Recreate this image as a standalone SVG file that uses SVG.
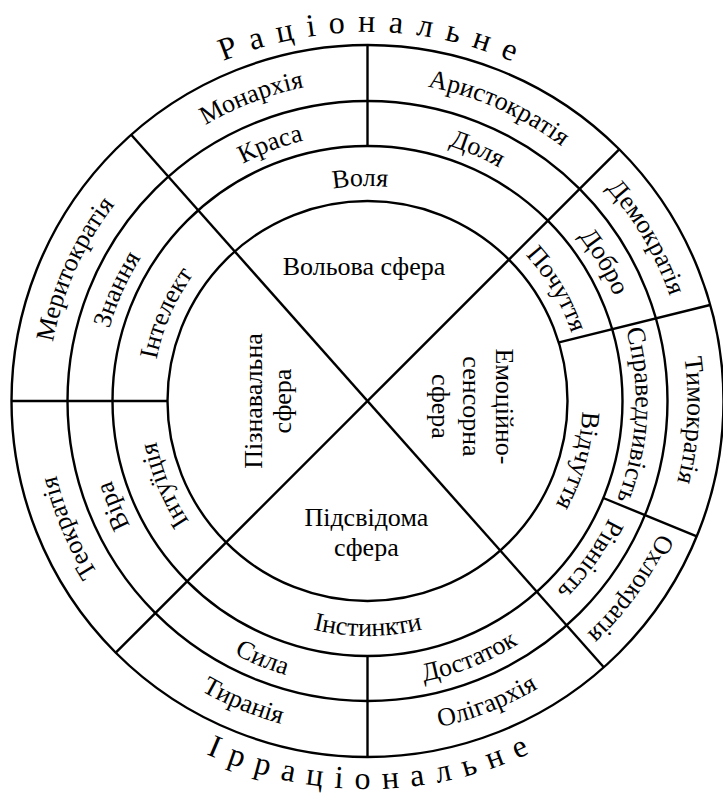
<svg xmlns="http://www.w3.org/2000/svg" xmlns:xlink="http://www.w3.org/1999/xlink" width="723" height="797" viewBox="0 0 723 797">
<style>
  .ring { fill: none; stroke: #000; stroke-width: 2.4; }
  .div { stroke: #000; stroke-width: 2.4; stroke-linecap: butt; fill: none; }
  text { font-family: "Liberation Serif", "DejaVu Serif", serif; font-size: 26px; fill: #000; }
  .lbl { text-anchor: middle; }
  .head { font-size: 32px; letter-spacing: 13px; text-anchor: middle; }
  .head2 { font-size: 32px; letter-spacing: 11.8px; text-anchor: middle; }
</style>
<defs>
  <path id="cw369" d="M367.5,770 A369,369 0 1 1 367.5,32 A369,369 0 1 1 367.5,770"/>
  <path id="cw320" d="M367.5,721 A320,320 0 1 1 367.5,81 A320,320 0 1 1 367.5,721"/>
  <path id="cw268" d="M367.5,669 A268,268 0 1 1 367.5,133 A268,268 0 1 1 367.5,669"/>
  <path id="cw215" d="M367.5,616 A215,215 0 1 1 367.5,186 A215,215 0 1 1 367.5,616"/>
  <path id="ccw388" d="M367.5,13 A388,388 0 1 0 367.5,789 A388,388 0 1 0 367.5,13"/>
  <path id="ccw334" d="M367.5,67 A334,334 0 1 0 367.5,735 A334,334 0 1 0 367.5,67"/>
  <path id="ccw286" d="M367.5,115 A286,286 0 1 0 367.5,687 A286,286 0 1 0 367.5,115"/>
  <path id="ccw235" d="M367.5,166 A235,235 0 1 0 367.5,636 A235,235 0 1 0 367.5,166"/>
</defs>
<rect x="0" y="0" width="723" height="797" fill="#fff"/>

<g id="rings">
  <circle class="ring" cx="367.5" cy="401" r="356"/>
  <circle class="ring" cx="367.5" cy="401" r="300"/>
  <circle class="ring" cx="367.5" cy="401" r="255"/>
  <circle class="ring" cx="367.5" cy="401" r="200"/>
</g>

<g id="connectors">
  <line class="div" x1="131.2" y1="134.8" x2="603.8" y2="667.2"/>
  <line class="div" x1="619.2" y1="149.3" x2="115.8" y2="652.7"/>
  <line class="div" x1="367.5" y1="45" x2="367.5" y2="146"/>
  <line class="div" x1="367.5" y1="656" x2="367.5" y2="757"/>
  <line class="div" x1="11.5" y1="401" x2="167.5" y2="401"/>
  <line class="div" x1="559" y1="342.4" x2="710" y2="305"/>
  <line class="div" x1="603.3" y1="498" x2="696.8" y2="536.4"/>
</g>

<g id="headers">
  <g id="rational"><text class="head"><textPath href="#cw369" xlink:href="#cw369" startOffset="1165.7">Раціональне</textPath></text></g>
  <g id="irrational"><text class="head2"><textPath href="#ccw388" xlink:href="#ccw388" startOffset="1224.8">Ірраціональне</textPath></text></g>
</g>

<g id="spheres">
  <g id="volova"><text class="lbl" x="364" y="275">Вольова сфера</text></g>
  <g id="piznavalna">
    <text class="lbl" transform="translate(261.7,401) rotate(-90)">Пізнавальна</text>
    <text class="lbl" transform="translate(290.7,401) rotate(-90)">сфера</text>
  </g>
  <g id="emotsiino">
    <text class="lbl" transform="translate(496,406.5) rotate(90)">Емоційно-</text>
    <text class="lbl" transform="translate(463.3,406.5) rotate(90)">сенсорна</text>
    <text class="lbl" transform="translate(431.7,406.5) rotate(90)">сфера</text>
  </g>
  <g id="pidsvidoma">
    <text class="lbl" x="366.3" y="526">Підсвідома</text>
    <text class="lbl" x="366.3" y="555.5">сфера</text>
  </g>
</g>

<g id="inner-ring">
  <g id="volia"><text class="lbl"><textPath href="#cw215" xlink:href="#cw215" startOffset="667.9">Воля</textPath></text></g>
  <g id="pochuttia"><text class="lbl"><textPath href="#cw215" xlink:href="#cw215" startOffset="898">Почуття</textPath></text></g>
  <g id="vidchuttia"><text class="lbl"><textPath href="#cw215" xlink:href="#cw215" startOffset="1072.1">Відчуття</textPath></text></g>
  <g id="instynkty"><text class="lbl"><textPath href="#ccw235" xlink:href="#ccw235" startOffset="738.3">Інстинкти</textPath></text></g>
  <g id="intuitsiia"><text class="lbl"><textPath href="#cw215" xlink:href="#cw215" startOffset="253.3">Інтуїція</textPath></text></g>
  <g id="intelekt"><text class="lbl"><textPath href="#cw215" xlink:href="#cw215" startOffset="425.9">Інтелект</textPath></text></g>
</g>

<g id="middle-ring">
  <g id="krasa"><text class="lbl"><textPath href="#cw268" xlink:href="#cw268" startOffset="744.7">Краса</textPath></text></g>
  <g id="dolia"><text class="lbl"><textPath href="#cw268" xlink:href="#cw268" startOffset="951.9">Доля</textPath></text></g>
  <g id="dobro"><text class="lbl"><textPath href="#cw268" xlink:href="#cw268" startOffset="1120.2">Добро</textPath></text></g>
  <g id="spravedlyvist"><text class="lbl"><textPath href="#cw268" xlink:href="#cw268" startOffset="1276.9">Справедливість</textPath></text></g>
  <g id="rivnist"><text class="lbl"><textPath href="#cw268" xlink:href="#cw268" startOffset="1428.5">Рівність</textPath></text></g>
  <g id="dostatok"><text class="lbl"><textPath href="#ccw286" xlink:href="#ccw286" startOffset="1005.8">Достаток</textPath></text></g>
  <g id="syla"><text class="lbl"><textPath href="#ccw286" xlink:href="#ccw286" startOffset="787.2">Сила</textPath></text></g>
  <g id="vira"><text class="lbl"><textPath href="#cw268" xlink:href="#cw268" startOffset="315.7">Віра</textPath></text></g>
  <g id="znannia"><text class="lbl"><textPath href="#cw268" xlink:href="#cw268" startOffset="533.2">Знання</textPath></text></g>
</g>

<g id="outer-ring">
  <g id="monarkhiia"><text class="lbl"><textPath href="#cw320" xlink:href="#cw320" startOffset="888">Монархія</textPath></text></g>
  <g id="arystokratiia"><text class="lbl"><textPath href="#cw320" xlink:href="#cw320" startOffset="1139.4">Аристократія</textPath></text></g>
  <g id="demokratiia"><text class="lbl"><textPath href="#cw320" xlink:href="#cw320" startOffset="1337.6">Демократія</textPath></text></g>
  <g id="tymokratiia"><text class="lbl"><textPath href="#cw320" xlink:href="#cw320" startOffset="1526.4">Тимократія</textPath></text></g>
  <g id="okhlokratiia"><text class="lbl"><textPath href="#cw320" xlink:href="#cw320" startOffset="1705.7">Охлократія</textPath></text></g>
  <g id="oliharkhiia"><text class="lbl"><textPath href="#ccw334" xlink:href="#ccw334" startOffset="1174.6">Олігархія</textPath></text></g>
  <g id="tyraniia"><text class="lbl"><textPath href="#ccw334" xlink:href="#ccw334" startOffset="918.1">Тиранія</textPath></text></g>
  <g id="teokratiia"><text class="lbl"><textPath href="#cw320" xlink:href="#cw320" startOffset="374.2">Теократія</textPath></text></g>
  <g id="merytokratiia"><text class="lbl"><textPath href="#cw320" xlink:href="#cw320" startOffset="637.8">Меритократія</textPath></text></g>
</g>
</svg>
